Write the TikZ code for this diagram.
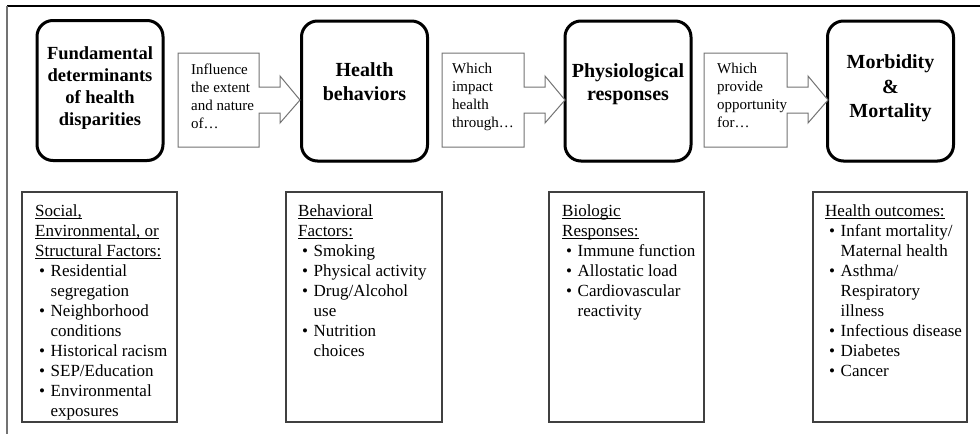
\documentclass[tikz,border=0pt]{standalone}
\usepackage{fontspec}
\setmainfont{Liberation Serif}
\usetikzlibrary{shadows}
\newcommand\hdr[1]{\setbox0\hbox{#1}\rlap{\rule[-2.2pt]{\wd0}{0.8pt}}\box0}
\newcommand\bul{\hspace*{4pt}\makebox[11.5pt][l]{\textbullet}}
\newcommand\ind{\hspace*{15.5pt}}
\tikzset{
  bigbox/.style={draw, line width=3pt, rounded corners=16pt, fill=white,
    minimum width=126pt, minimum height=140pt, inner sep=0pt,
    drop shadow={shadow xshift=1pt, shadow yshift=-1.6pt, fill=black!40}},
  bigtext/.style={align=center, inner sep=0pt, font=\bfseries\fontsize{20}{23.5}\selectfont},
  listbox/.style={draw=black!75, line width=1.2pt, minimum height=230pt, inner sep=0pt},
  listtext/.style={align=left, anchor=north west, inner sep=0pt, font=\fontsize{17}{20}\selectfont},
  callshape/.style={draw=black!55, line width=1pt, fill=white},
  calltext/.style={align=left, anchor=north west, inner sep=0pt, font=\fontsize{15}{18}\selectfont},
  topline/.style={draw=black, line width=1.3pt},
  sideline/.style={draw=black!55, line width=2pt}
}
% #1 left x, #2 tip x
\newcommand\callout[2]{%
  \draw[callshape] (#1,53) -- (#2-41,53) -- (#2-41,87) -- (#2-20,87) -- (#2-20,76)
    -- (#2,100) -- (#2-20,123) -- (#2-20,113) -- (#2-41,113) -- (#2-41,147)
    -- (#1,147) -- cycle;}
\begin{document}
\begin{tikzpicture}[x=1pt,y=-1pt]
\useasboundingbox (0,0) rectangle (980,434);
% frame
\draw[topline] (7,6) -- (980,6);
\draw[sideline] (7,6) -- (7,434);

% main boxes
\node[bigbox] (fund) at (100,90.5) {};
\node[bigbox] (beh)  at (364.5,91) {};
\node[bigbox] (phys) at (628,91) {};
\node[bigbox] (morb) at (890.5,91) {};

\node[bigtext, font=\bfseries\fontsize{18.5}{22}\selectfont] (fundt) at (100,88)
  {Fundamental\\determinants\\of health\\disparities};
\node[bigtext] (beht) at (364.5,81.5) {Health\\behaviors};
\node[bigtext] (physt) at (628,84) {Physiological\\responses};
\node[bigtext, font=\bfseries\fontsize{20}{24.5}\selectfont] (morbt) at (890.5,88.5)
  {Morbidity\\\&\\Mortality};

% callouts
\callout{178}{300}
\node[calltext] (c1) at (191,63.3) {Influence\\the extent\\and nature\\of…};
\callout{442}{565}
\node[calltext] (c2) at (452,63.3) {Which\\impact\\health\\through…};
\callout{704}{828}
\node[calltext] (c3) at (717,63.3) {Which\\provide\\opportunity\\for…};

% lower boxes
\node[listbox, minimum width=155pt] (soc) at (99.5,307) {};
\node[listbox, minimum width=156pt] (bf)  at (364,307) {};
\node[listbox, minimum width=155pt] (bio) at (626.5,307) {};
\node[listbox, minimum width=154pt] (ho)  at (890,307) {};

\node[listtext] (soct) at (35,204.5) {\hdr{Social,}\\
  \hdr{Environmental, or}\\
  \hdr{Structural Factors:}\\
  \bul Residential\\
  \ind segregation\\
  \bul Neighborhood\\
  \ind conditions\\
  \bul Historical racism\\
  \bul SEP/Education\\
  \bul Environmental\\
  \ind exposures};
\node[listtext] (bft) at (298,204.5) {\hdr{Behavioral}\\
  \hdr{Factors:}\\
  \bul Smoking\\
  \bul Physical activity\\
  \bul Drug/Alcohol\\
  \ind use\\
  \bul Nutrition\\
  \ind choices};
\node[listtext] (biot) at (562,204.5) {\hdr{Biologic}\\
  \hdr{Responses:}\\
  \bul Immune function\\
  \bul Allostatic load\\
  \bul Cardiovascular\\
  \ind reactivity};
\node[listtext] (hot) at (825,204.5) {\hdr{Health outcomes:}\\
  \bul Infant mortality/\\
  \ind Maternal health\\
  \bul Asthma/\\
  \ind Respiratory\\
  \ind illness\\
  \bul Infectious disease\\
  \bul Diabetes\\
  \bul Cancer};
\end{tikzpicture}
\end{document}
